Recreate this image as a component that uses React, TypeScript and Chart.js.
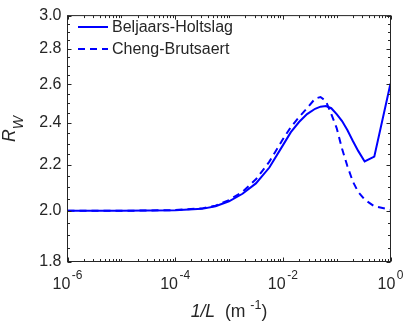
import React, { useEffect, useRef } from "react";
import { Chart, registerables } from "chart.js";

Chart.register(...registerables);

// ---- data ----
const INV_L = [
  1e-6, 1e-5, 3.16e-5, 1e-4, 3.16e-4, 5.62e-4, 1e-3, 1.78e-3, 3.16e-3, 5.62e-3,
  1e-2, 1.41e-2, 2.0e-2, 2.82e-2, 3.98e-2, 5.01e-2, 6.31e-2, 7.94e-2, 0.1, 0.126,
  0.158, 0.2, 0.251, 0.331, 0.5, 1,
];
const BELJAARS_HOLTSLAG = [
  2.0, 2.0, 2.001, 2.002, 2.008, 2.019, 2.04, 2.072, 2.117, 2.188,
  2.291, 2.355, 2.405, 2.445, 2.472, 2.483, 2.486, 2.475, 2.445, 2.41,
  2.365, 2.312, 2.265, 2.216, 2.238, 2.605,
];
const CHENG_BRUTSAERT = [
  2.0, 2.0, 2.001, 2.003, 2.01, 2.021, 2.045, 2.08, 2.135, 2.215,
  2.32, 2.38, 2.43, 2.475, 2.525, 2.533, 2.512, 2.445, 2.375, 2.275,
  2.195, 2.125, 2.08, 2.047, 2.019, 2.004,
];
const SERIES_LABELS = ["Beljaars-Holtslag", "Cheng-Brutsaert"];
const X_TICKS = [1e-6, 1e-4, 1e-2, 1];
const X_TICK_BASES = ["10", "10", "10", "10"];
const X_TICK_EXPONENTS = ["-6", "-4", "-2", "0"];
const Y_TICKS = [1.8, 2.0, 2.2, 2.4, 2.6, 2.8, 3.0];
const Y_TICK_LABELS = ["1.8", "2.0", "2.2", "2.4", "2.6", "2.8", "3.0"];

const FONT = '"Liberation Sans", Arial, Helvetica, sans-serif';
const INK = "#262626";
const BLUE = "#0000ff";

type Piece = { t: string; size: number; italic?: boolean; dy?: number; gap?: number };

function drawPieces(ctx: CanvasRenderingContext2D, pieces: Piece[], cx: number, baseY: number) {
  let total = 0;
  const widths = pieces.map((p) => {
    ctx.font = `${p.italic ? "italic " : ""}${p.size}px ${FONT}`;
    const w = ctx.measureText(p.t).width + (p.gap || 0);
    total += w;
    return w;
  });
  let x = cx - total / 2;
  pieces.forEach((p, i) => {
    ctx.font = `${p.italic ? "italic " : ""}${p.size}px ${FONT}`;
    ctx.fillText(p.t, x + (p.gap || 0), baseY + (p.dy || 0));
    x += widths[i];
  });
}

const decorPlugin = {
  id: "matlabDecor",
  afterDatasetsDraw(chart: any) {
    const { ctx, chartArea: a, scales } = chart;
    const xs = scales.x;
    const ys = scales.y;
    ctx.save();
    ctx.strokeStyle = INK;
    ctx.lineWidth = 1;
    ctx.setLineDash([]);
    const major = 4;
    const minor = 2.5;
    ctx.beginPath();
    // x ticks (bottom and top)
    for (let d = -6; d <= 0; d++) {
      for (let k = 1; k <= 9; k++) {
        const v = k * Math.pow(10, d);
        if (v > 1.0000001) break;
        const px = Math.round(xs.getPixelForValue(v)) + 0.5;
        const isMajor = k === 1 && X_TICKS.some((t) => Math.abs(t - v) / v < 1e-6);
        const len = isMajor ? major : minor;
        ctx.moveTo(px, a.bottom);
        ctx.lineTo(px, a.bottom - len);
        ctx.moveTo(px, a.top);
        ctx.lineTo(px, a.top + len);
      }
    }
    // y ticks (left and right)
    for (let i = 0; i <= 24; i++) {
      const v = 1.8 + i * 0.05;
      const py = Math.round(ys.getPixelForValue(v)) + 0.5;
      const len = i % 4 === 0 ? major : minor;
      ctx.moveTo(a.left, py);
      ctx.lineTo(a.left + len, py);
      ctx.moveTo(a.right, py);
      ctx.lineTo(a.right - len, py);
    }
    ctx.stroke();
    ctx.strokeRect(a.left, a.top, a.right - a.left, a.bottom - a.top);
    ctx.restore();
  },
  afterDraw(chart: any) {
    const { ctx, chartArea: a, scales } = chart;
    ctx.save();
    ctx.fillStyle = INK;
    ctx.textBaseline = "alphabetic";
    ctx.textAlign = "left";
    // x tick labels: 10 with raised exponent
    X_TICKS.forEach((v, i) => {
      const px = scales.x.getPixelForValue(v);
      drawPieces(
        ctx,
        [
          { t: X_TICK_BASES[i], size: 16 },
          { t: X_TICK_EXPONENTS[i], size: 12, dy: -10, gap: 1.5 },
        ],
        px,
        289
      );
    });
    // x title
    drawPieces(
      ctx,
      [
        { t: "1/L", size: 17.6, italic: true },
        { t: "  (m ", size: 17.6 },
        { t: "-1", size: 12.5, dy: -8 },
        { t: ")", size: 17.6 },
      ],
      (a.left + a.right) / 2,
      317
    );
    // y title
    ctx.save();
    ctx.translate(15, 129);
    ctx.rotate(-Math.PI / 2);
    drawPieces(
      ctx,
      [
        { t: "R", size: 17.6, italic: true },
        { t: "W", size: 14, italic: true, dy: 8 },
      ],
      0,
      0
    );
    ctx.restore();
    // legend
    chart.data.datasets.forEach((ds: any, i: number) => {
      const y = 27 + i * 22;
      ctx.save();
      ctx.strokeStyle = ds.borderColor;
      ctx.lineWidth = ds.borderWidth;
      ctx.setLineDash(ds.borderDash || []);
      ctx.beginPath();
      ctx.moveTo(78, y);
      ctx.lineTo(108, y);
      ctx.stroke();
      ctx.restore();
      ctx.font = `16px ${FONT}`;
      ctx.textBaseline = "middle";
      ctx.fillText(ds.label, 112, y + 0.5);
    });
    ctx.restore();
  },
};

export default function App() {
  const ref = useRef<HTMLCanvasElement | null>(null);
  useEffect(() => {
    document.body.style.margin = "0";
    const canvas = ref.current;
    if (!canvas) return;
    const chart = new Chart(canvas, {
      type: "line",
      data: {
        datasets: [
          {
            label: SERIES_LABELS[0],
            data: INV_L.map((x, i) => ({ x, y: BELJAARS_HOLTSLAG[i] })),
            borderColor: BLUE,
            borderWidth: 2,
            pointRadius: 0,
            tension: 0,
            fill: false,
          },
          {
            label: SERIES_LABELS[1],
            data: INV_L.map((x, i) => ({ x, y: CHENG_BRUTSAERT[i] })),
            borderColor: BLUE,
            borderWidth: 2,
            borderDash: [7, 5],
            pointRadius: 0,
            tension: 0,
            fill: false,
          },
        ],
      },
      options: {
        responsive: false,
        animation: false,
        devicePixelRatio: 1,
        layout: { padding: { top: 7.5, right: 16.5, left: 0, bottom: 0 } },
        plugins: { legend: { display: false }, tooltip: { enabled: false } },
        scales: {
          x: {
            type: "logarithmic",
            min: 1e-6,
            max: 1,
            grid: { display: false, drawTicks: false },
            border: { display: false },
            afterBuildTicks: (s: any) => {
              s.ticks = X_TICKS.map((v) => ({ value: v }));
            },
            afterFit: (s: any) => {
              s.height = 62.5;
            },
            ticks: { display: false },
          },
          y: {
            type: "logarithmic",
            min: 1.8,
            max: 3.0,
            grid: { display: false, drawTicks: false },
            border: { display: false },
            afterBuildTicks: (s: any) => {
              s.ticks = Y_TICKS.map((v) => ({ value: v }));
            },
            afterFit: (s: any) => {
              s.width = 67.5;
            },
            ticks: {
              autoSkip: false,
              padding: 6,
              color: INK,
              font: { family: FONT, size: 16 },
              callback: (_v: any, i: number) => Y_TICK_LABELS[i],
            },
          },
        },
      } as any,
      plugins: [decorPlugin],
    });
    return () => chart.destroy();
  }, []);
  return <canvas ref={ref} width={407} height={324} style={{ display: "block" }} />;
}
